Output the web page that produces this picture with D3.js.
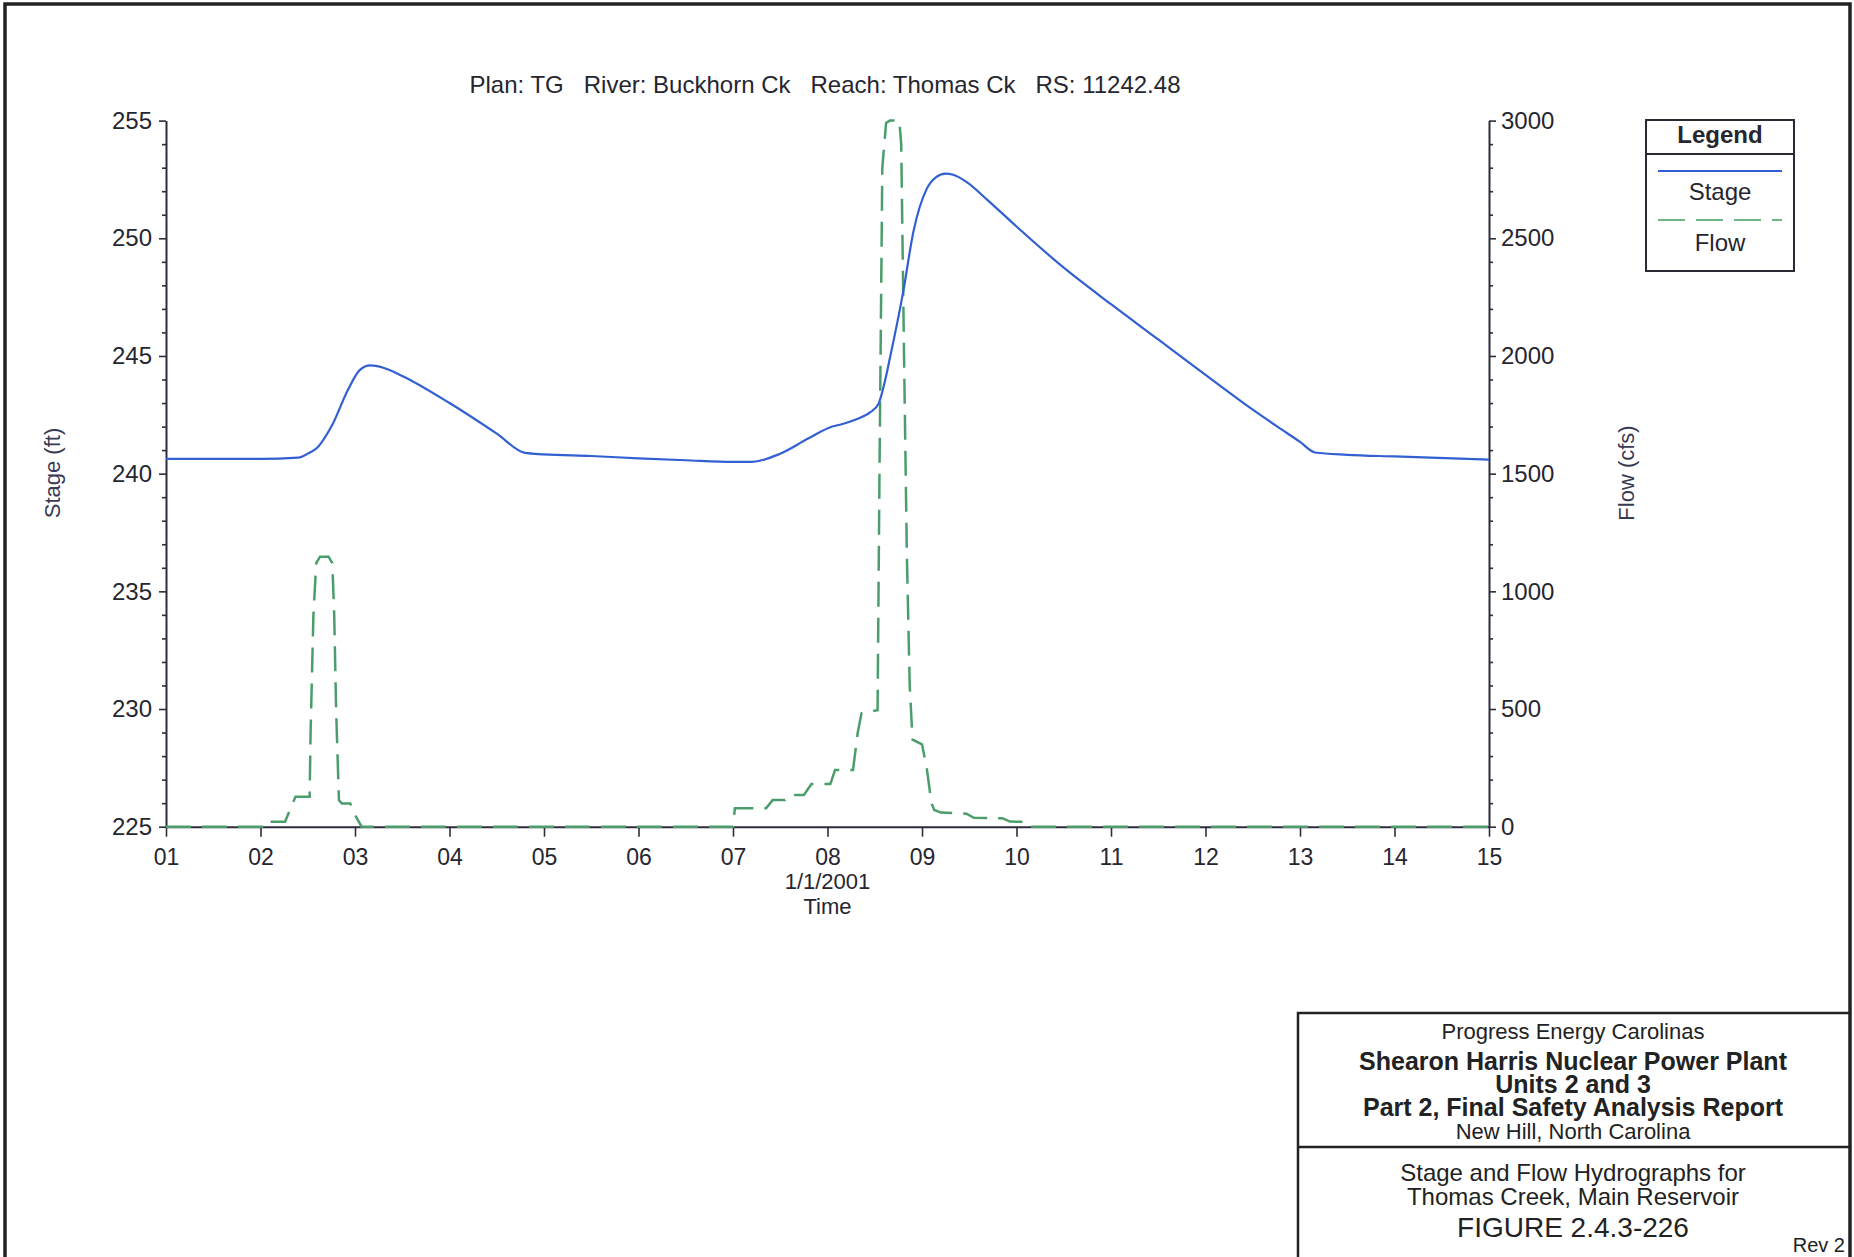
<!DOCTYPE html>
<html>
<head>
<meta charset="utf-8">
<script src="https://cdn.jsdelivr.net/npm/d3@7/dist/d3.min.js"></script>
<style>
    body { margin: 0; background: #fff; }
    svg { display: block; font-family: "Liberation Sans", Arial, sans-serif; }
</style>
</head>
<body>
<svg id="drawing_region"></svg>
<script>
// x axis: days of January 2001
const day_ticks = [1, 2, 3, 4, 5, 6, 7, 8, 9, 10, 11, 12, 13, 14, 15];
const day_labels = ['01', '02', '03', '04', '05', '06', '07', '08', '09', '10', '11', '12', '13', '14', '15'];

const stage_ticks = [225, 230, 235, 240, 245, 250, 255];
const flow_ticks = [0, 500, 1000, 1500, 2000, 2500, 3000];

// Stage (ft)
const stage_day = [1.0, 2.0, 2.4, 2.5, 2.6, 2.75, 2.93, 3.05, 3.16, 3.3, 3.5, 4.0, 4.5, 4.8, 5.0, 5.5, 6.0, 6.5, 7.0, 7.2,
    7.5, 7.8, 8.05, 8.15, 8.3, 8.45, 8.54, 8.6, 8.66, 8.8, 8.91, 9.05, 9.15, 9.25, 9.33, 9.47, 9.7, 10.0, 10.5, 11.0,
    11.5, 12.0, 12.5, 12.76, 13.0, 13.16, 13.5, 14.0, 15.0];
const stage_ft = [240.63, 240.63, 240.68, 240.85, 241.1, 242.0, 243.6, 244.4, 244.6, 244.5, 244.15, 243.0, 241.7, 240.88, 240.82, 240.75, 240.65, 240.57, 240.5, 240.5,
    240.85, 241.5, 242.0, 242.1, 242.3, 242.6, 242.97, 243.8, 244.9, 247.7, 250.3, 252.1, 252.6, 252.75, 252.7, 252.4, 251.6, 250.5, 248.75, 247.2,
    245.7, 244.2, 242.72, 242.0, 241.35, 240.9, 240.8, 240.73, 240.6];

// Flow (cfs) (stepped output)
const flow_day = [1.0, 2.03, 2.05, 2.26, 2.3, 2.37, 2.52, 2.53, 2.56, 2.59, 2.63, 2.72, 2.76, 2.78, 2.8, 2.83, 2.86, 2.95, 3.0, 3.07,
    7.0, 7.02, 7.35, 7.42, 7.55, 7.6, 7.75, 7.83, 8.03, 8.08, 8.27, 8.32, 8.36, 8.53, 8.55, 8.58, 8.62, 8.66, 8.76, 8.78,
    8.81, 8.84, 8.87, 8.9, 9.0, 9.05, 9.1, 9.13, 9.2, 9.47, 9.55, 9.85, 9.93, 10.05, 10.09, 15.0];
const flow_cfs = [0, 0, 21, 21, 60, 127, 127, 400, 900, 1120, 1147, 1147, 1120, 900, 500, 113, 99, 99, 50, 0,
    0, 78, 78, 113, 113, 135, 135, 181, 181, 241, 241, 400, 482, 495, 1500, 2800, 2990, 3000, 3000, 2900,
    2000, 1150, 600, 370, 350, 250, 100, 71, 60, 55, 38, 36, 22, 21, 0, 0];

const title_text = 'Plan: TG   River: Buckhorn Ck   Reach: Thomas Ck   RS: 11242.48';
const block_lines = ['Progress Energy Carolinas', 'Shearon Harris Nuclear Power Plant', 'Units 2 and 3',
    'Part 2, Final Safety Analysis Report', 'New Hill, North Carolina'];
const caption_lines = ['Stage and Flow Hydrographs for', 'Thomas Creek, Main Reservoir', 'FIGURE 2.4.3-226'];

class Hydrograph {

    constructor( config ) {
        this.config = {
            parent: config.parent,
            width: config.width || 1854,
            height: config.height || 1257,
            margin: config.margin || {top: 120.6, right: 365, bottom: 430.3, left: 166}
        };
        this.init();
    }

    init() {
        let self = this;

        self.svg = d3.select( self.config.parent )
            .attr('width', self.config.width)
            .attr('height', self.config.height);

        self.inner_width = self.config.width - self.config.margin.left - self.config.margin.right;
        self.inner_height = self.config.height - self.config.margin.top - self.config.margin.bottom;

        self.chart = self.svg.append('g')
            .attr('transform', `translate(${self.config.margin.left}, ${self.config.margin.top})`);

        self.xscale = d3.scaleLinear()
            .domain( [1, 15] )
            .range( [0, self.inner_width] );

        self.yscale = d3.scaleLinear()
            .domain( [225, 255] )
            .range( [self.inner_height, 0] );

        self.y2scale = d3.scaleLinear()
            .domain( [0, 3000] )
            .range( [self.inner_height, 0] );
    }

    render() {
        let self = this;
        const axis_color = '#2d2d3c';
        const text_color = '#262630';

        // page frame
        self.svg.append('path')
            .attr('d', `M5,${self.config.height} V4 H1850 V${self.config.height}`)
            .attr('fill', 'none')
            .attr('stroke', '#222')
            .attr('stroke-width', 3.5);

        // title
        self.svg.append('text')
            .attr('x', 825)
            .attr('y', 93)
            .attr('text-anchor', 'middle')
            .style('font-size', '24px')
            .style('white-space', 'pre')
            .attr('fill', text_color)
            .text( title_text );

        // minor ticks
        self.chart.append('g')
            .call( d3.axisLeft(self.yscale).tickValues(d3.range(226, 255).filter(d => d % 5 != 0)).tickSize(4).tickFormat('') )
            .call( g => g.select('.domain').remove() );
        self.chart.append('g')
            .attr('transform', `translate(${self.inner_width}, 0)`)
            .call( d3.axisRight(self.y2scale).tickValues(d3.range(100, 3000, 100).filter(d => d % 500 != 0)).tickSize(4).tickFormat('') )
            .call( g => g.select('.domain').remove() );

        // major axes
        self.yaxis_group = self.chart.append('g')
            .call( d3.axisLeft(self.yscale).tickValues(stage_ticks).tickSize(7).tickSizeOuter(0).tickPadding(7) );
        self.y2axis_group = self.chart.append('g')
            .attr('transform', `translate(${self.inner_width}, 0)`)
            .call( d3.axisRight(self.y2scale).tickValues(flow_ticks).tickFormat(d3.format('d'))
                .tickSize(7).tickSizeOuter(0).tickPadding(5) );
        self.xaxis_group = self.chart.append('g')
            .attr('transform', `translate(0, ${self.inner_height})`)
            .call( d3.axisBottom(self.xscale).tickValues(day_ticks).tickFormat((d, i) => day_labels[i])
                .tickSize(10).tickSizeOuter(0).tickPadding(12) );

        self.chart.selectAll('.domain')
            .attr('stroke', axis_color)
            .attr('stroke-width', 2);
        self.chart.selectAll('.tick line')
            .attr('stroke', axis_color)
            .attr('stroke-width', 1.6);
        self.chart.selectAll('.tick text')
            .attr('fill', text_color)
            .style('font-size', '24px');
        self.xaxis_group.selectAll('.tick text')
            .style('font-size', '23px');

        // axis titles
        self.svg.append('text')
            .attr('transform', `translate(60, 473) rotate(-90)`)
            .attr('text-anchor', 'middle')
            .style('font-size', '22px')
            .attr('fill', '#3a3a55')
            .text('Stage (ft)');
        self.svg.append('text')
            .attr('transform', `translate(1634, 473) rotate(-90)`)
            .attr('text-anchor', 'middle')
            .style('font-size', '22px')
            .attr('fill', '#3a3a55')
            .text('Flow (cfs)');
        self.svg.append('text')
            .attr('x', self.config.margin.left + self.xscale(8))
            .attr('y', 889)
            .attr('text-anchor', 'middle')
            .style('font-size', '22px')
            .attr('fill', text_color)
            .text('1/1/2001');
        self.svg.append('text')
            .attr('x', self.config.margin.left + self.xscale(8))
            .attr('y', 914)
            .attr('text-anchor', 'middle')
            .style('font-size', '22px')
            .attr('fill', text_color)
            .text('Time');

        // series
        const stage_line = d3.line()
            .x(d => self.xscale(d[0]))
            .y(d => self.yscale(d[1]))
            .curve(d3.curveMonotoneX);
        const flow_line = d3.line()
            .x(d => self.xscale(d[0]))
            .y(d => self.y2scale(d[1]));

        self.chart.append('path')
            .attr('d', flow_line( d3.zip(flow_day, flow_cfs) ))
            .attr('stroke', '#4b9e6c')
            .attr('stroke-width', 2.5)
            .attr('stroke-dasharray', '25,11')
            .attr('fill', 'none');
        self.chart.append('path')
            .attr('d', stage_line( d3.zip(stage_day, stage_ft) ))
            .attr('stroke', '#3260d2')
            .attr('stroke-width', 2.2)
            .attr('fill', 'none');

        // legend
        const legend = self.svg.append('g');
        legend.append('rect')
            .attr('x', 1646).attr('y', 120)
            .attr('width', 148).attr('height', 151)
            .attr('fill', 'none')
            .attr('stroke', '#2a2a35')
            .attr('stroke-width', 2);
        legend.append('line')
            .attr('x1', 1646).attr('x2', 1794)
            .attr('y1', 154).attr('y2', 154)
            .attr('stroke', '#2a2a35')
            .attr('stroke-width', 2);
        legend.append('text')
            .attr('x', 1720).attr('y', 143)
            .attr('text-anchor', 'middle')
            .style('font-size', '24px')
            .style('font-weight', 'bold')
            .attr('fill', text_color)
            .text('Legend');
        legend.append('line')
            .attr('x1', 1658).attr('x2', 1782)
            .attr('y1', 171).attr('y2', 171)
            .attr('stroke', '#3260d2')
            .attr('stroke-width', 2);
        legend.append('text')
            .attr('x', 1720).attr('y', 200)
            .attr('text-anchor', 'middle')
            .style('font-size', '24px')
            .attr('fill', text_color)
            .text('Stage');
        legend.append('line')
            .attr('x1', 1658).attr('x2', 1782)
            .attr('y1', 220).attr('y2', 220)
            .attr('stroke', '#6fb585')
            .attr('stroke-width', 2)
            .attr('stroke-dasharray', '27,11');
        legend.append('text')
            .attr('x', 1720).attr('y', 251)
            .attr('text-anchor', 'middle')
            .style('font-size', '24px')
            .attr('fill', text_color)
            .text('Flow');

        // title block
        const block = self.svg.append('g');
        block.append('path')
            .attr('d', `M1298,${self.config.height} V1013 H1850 M1298,1147 H1850`)
            .attr('fill', 'none')
            .attr('stroke', '#222')
            .attr('stroke-width', 2.5);
        const block_y = [1039, 1070, 1093, 1116, 1139];
        const block_size = [22, 25, 25, 25, 22];
        const block_bold = [false, true, true, true, false];
        block_lines.forEach((t, i) => {
            block.append('text')
                .attr('x', 1573).attr('y', block_y[i])
                .attr('text-anchor', 'middle')
                .style('font-size', block_size[i] + 'px')
                .style('font-weight', block_bold[i] ? 'bold' : 'normal')
                .attr('fill', '#222')
                .text(t);
        });
        const caption_y = [1181, 1205, 1237];
        const caption_size = [24, 24, 28];
        caption_lines.forEach((t, i) => {
            block.append('text')
                .attr('x', 1573).attr('y', caption_y[i])
                .attr('text-anchor', 'middle')
                .style('font-size', caption_size[i] + 'px')
                .attr('fill', '#222')
                .text(t);
        });
        block.append('text')
            .attr('x', 1845).attr('y', 1252)
            .attr('text-anchor', 'end')
            .style('font-size', '20px')
            .attr('fill', '#222')
            .text('Rev 2');
    }
}

const chart = new Hydrograph({ parent: '#drawing_region' });
chart.render();
</script>
</body>
</html>
